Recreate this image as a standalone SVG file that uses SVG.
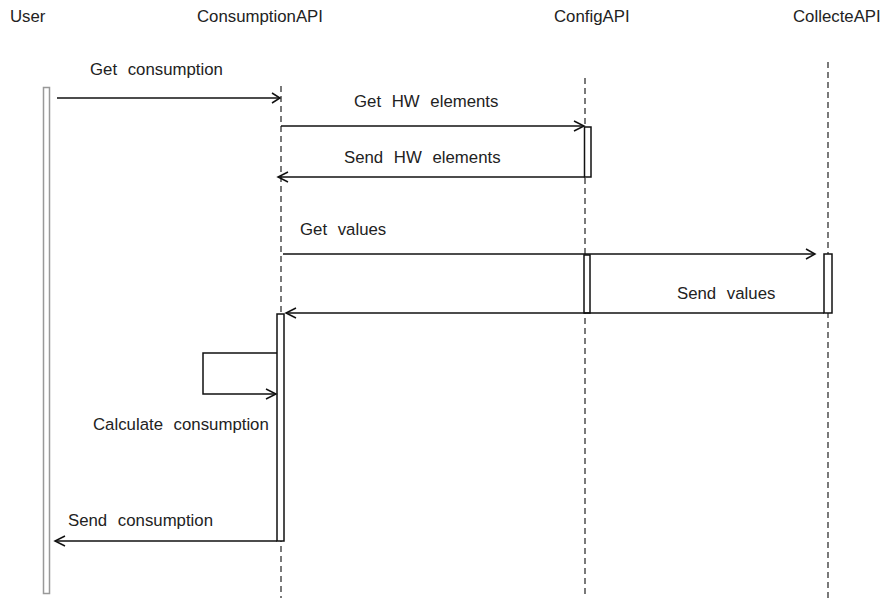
<svg xmlns="http://www.w3.org/2000/svg" width="880" height="598" viewBox="0 0 880 598">
<style>
text{font-family:"Liberation Sans",Arial,sans-serif;font-size:16.8px;fill:#222;word-spacing:6px}
.life{stroke:#333;stroke-width:1.3;stroke-dasharray:6,4;fill:none}
.bar{fill:#fff;stroke:#111;stroke-width:1.5}
.msg{stroke:#111;stroke-width:1.5;fill:none}
.ah{stroke:#111;stroke-width:1.5;fill:none}
</style>
<rect width="880" height="598" fill="#fff"/>
<g id="user">
<text x="10" y="22">User</text>
<rect x="43.5" y="87.5" width="6" height="506" fill="#fff" stroke="#999" stroke-width="1.5"/>
</g>
<g id="consumptionapi">
<text x="197" y="22">ConsumptionAPI</text>
<line class="life" x1="281" y1="86" x2="281" y2="598"/>
<rect class="bar" x="277" y="314" width="7" height="227"/>
</g>
<g id="configapi">
<text x="554" y="22">ConfigAPI</text>
<line class="life" x1="585" y1="78" x2="585" y2="598"/>
<rect class="bar" x="584.5" y="127" width="6.5" height="50"/>
<rect class="bar" x="584" y="255" width="6" height="58"/>
</g>
<g id="collecteapi">
<text x="793" y="22">CollecteAPI</text>
<line class="life" x1="828" y1="62" x2="828" y2="598"/>
<rect class="bar" x="824" y="254" width="8" height="59"/>
</g>
<g id="connectors">
<line class="msg" x1="57" y1="98" x2="280" y2="98"/>
<path class="ah" d="M272,93 L280,98 L272,103"/>
<text x="90" y="75">Get consumption</text>
<line class="msg" x1="281" y1="126" x2="584" y2="126"/>
<path class="ah" d="M574,121 L584,126 L574,131"/>
<text x="354" y="107">Get HW elements</text>
<line class="msg" x1="585" y1="177" x2="278" y2="177"/>
<path class="ah" d="M288,172 L278,177 L288,182"/>
<text x="344" y="163">Send HW elements</text>
<line class="msg" x1="283" y1="254" x2="815" y2="254"/>
<path class="ah" d="M806,249 L815,254 L806,259"/>
<text x="300" y="235">Get values</text>
<line class="msg" x1="824" y1="313" x2="286" y2="313"/>
<path class="ah" d="M296,308 L286,313 L296,318"/>
<text x="677" y="299">Send values</text>
<path class="msg" d="M277,353 L203,353 L203,394 L276,394"/>
<path class="ah" d="M266,389 L276,394 L266,399"/>
<text x="93" y="430">Calculate consumption</text>
<line class="msg" x1="277" y1="541" x2="55" y2="541"/>
<path class="ah" d="M65,536 L55,541 L65,546"/>
<text x="68" y="526">Send consumption</text>
</g>
</svg>
